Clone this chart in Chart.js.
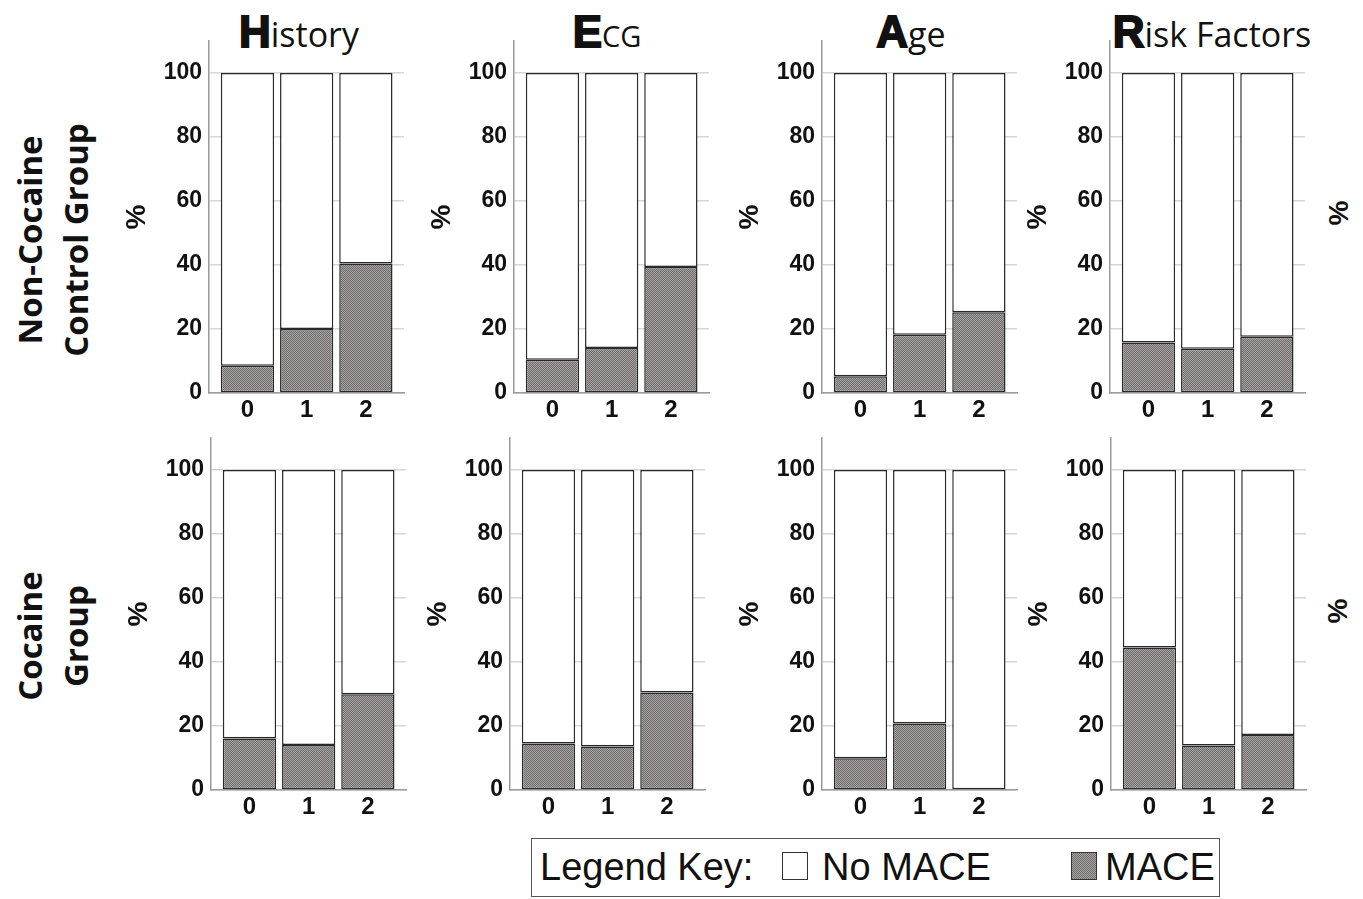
<!DOCTYPE html>
<html>
<head>
<meta charset="utf-8">
<script src="https://cdn.jsdelivr.net/npm/chart.js@4.4.1/dist/chart.umd.min.js"></script>
<style>
  body { margin: 0; background: #fff; width: 1363px; height: 899px; position: relative; overflow: hidden; font-family: "Liberation Sans", Arial, sans-serif; color: #111; }
  canvas.panel { position: absolute; }
  .title { position: absolute; width: 260px; text-align: center; white-space: nowrap; line-height: 50px; height: 50px; }
  .title .big { font: bold 44px "Liberation Sans"; -webkit-text-stroke: 1.8px #111; }
  .title .rest { font: 34px "Open Sans"; }
  .title .caps { font: 29px "Open Sans"; }
  .rowlabel { position: absolute; font: bold 33px "Open Sans"; line-height: 46px; text-align: center; white-space: nowrap; transform: translate(-50%, -50%) rotate(-90deg); }
  .pct { position: absolute; font: bold 28px "Liberation Sans"; transform: translate(-50%, -50%) rotate(-90deg); }
  #legend { position: absolute; left: 531px; top: 838px; width: 687px; height: 57px; border: 1.5px solid #555; line-height: 57px; font: 38px "Liberation Sans"; }
  #legend span { position: absolute; top: 0; line-height: 57px; }
  #legend .sw { position: absolute; top: 13px; width: 24px; height: 26px; border: 1px solid #333; }
</style>
</head>
<body>

<div class="rowlabel" style="left:53px; top:240px;">Non-Cocaine<br>Control Group</div>
<div class="rowlabel" style="left:53px; top:636px;">Cocaine<br>Group</div>

<div class="title" style="left:169px; top:7px;"><span class="big">H</span><span class="rest">istory</span></div>
<div class="title" style="left:477px; top:7px;"><span class="big">E</span><span class="caps">CG</span></div>
<div class="title" style="left:781px; top:7px;"><span class="big">A</span><span class="rest">ge</span></div>
<div class="title" style="left:1082px; top:7px;"><span class="big">R</span><span class="rest">isk Factors</span></div>

<div class="pct" style="left:1339px; top:213px;">%</div>
<div class="pct" style="left:1338px; top:611px;">%</div>

<canvas class="panel" id="c0"></canvas>
<canvas class="panel" id="c1"></canvas>
<canvas class="panel" id="c2"></canvas>
<canvas class="panel" id="c3"></canvas>
<canvas class="panel" id="c4"></canvas>
<canvas class="panel" id="c5"></canvas>
<canvas class="panel" id="c6"></canvas>
<canvas class="panel" id="c7"></canvas>

<div id="legend">
  <span style="left:8px;">Legend Key:</span>
  <div class="sw" style="left:250px; background:#fff;"></div>
  <span style="left:290px;">No MACE</span>
  <div class="sw" style="left:539px; background: repeating-conic-gradient(#747070 0 25%, #a4a0a0 0 50%) 0 0 / 2px 2px;"></div>
  <span style="left:573px;">MACE</span>
</div>

<script>
// Score categories on the x-axis
const categories = ['0', '1', '2']

// % of patients with MACE (bottom, patterned segment)
const controlHistoryMace = [8.5, 20.0, 40.5]
const controlEcgMace = [10.4, 14.1, 39.4]
const controlAgeMace = [5.2, 18.2, 25.2]
const controlRiskMace = [15.8, 13.8, 17.6]
const cocaineHistoryMace = [16.1, 14.1, 29.9]
const cocaineEcgMace = [14.5, 13.6, 30.5]
const cocaineAgeMace = [9.9, 20.8, 0]
const cocaineRiskMace = [44.5, 13.9, 17.2]

// % of patients without MACE (top, white segment)
const controlHistoryNoMace = [91.5, 80.0, 59.5]
const controlEcgNoMace = [89.6, 85.9, 60.6]
const controlAgeNoMace = [94.8, 81.8, 74.8]
const controlRiskNoMace = [84.2, 86.2, 82.4]
const cocaineHistoryNoMace = [83.9, 85.9, 70.1]
const cocaineEcgNoMace = [85.5, 86.4, 69.5]
const cocaineAgeNoMace = [90.1, 79.2, 100]
const cocaineRiskNoMace = [55.5, 86.1, 82.8]

const yTicks = [0, 20, 40, 60, 80, 100]

// Panel placement: x of the y-axis line, and top of the canvas for each row
const topAxisX = [209, 514, 822, 1110]
const bottomAxisX = [211, 510, 822, 1111]
const rowTop = [16, 413]

const axisWidth = 89   // room left of the axis for tick labels and the "%" title
const plotWidth = 195
const padRight = 14
const canvasHeight = 422

// Stippled grey fill used for the MACE segments
const patCanvas = document.createElement('canvas')
patCanvas.width = 2
patCanvas.height = 2
const pctx = patCanvas.getContext('2d')
pctx.fillStyle = '#a4a0a0'
pctx.fillRect(0, 0, 2, 2)
pctx.fillStyle = '#747070'
pctx.fillRect(0, 0, 1, 1)
pctx.fillRect(1, 1, 1, 1)
const macePattern = pctx.createPattern(patCanvas, 'repeat')

const tickFont = { family: 'Liberation Sans', size: 23, weight: 'bold' }

function toPoints(values) {
    return values.map((v, i) => ({ x: i, y: v }))
}

/**
 * Draws one stacked 100% bar panel
 */
function makePanel(canvasId, axisX, top, mace, noMace) {
    const canvas = document.getElementById(canvasId)
    canvas.width = axisWidth + plotWidth + padRight
    canvas.height = canvasHeight
    canvas.style.left = (axisX - axisWidth) + 'px'
    canvas.style.top = top + 'px'

    const barStyle = {
        borderColor: '#2a2a2a',
        borderWidth: 1.5,
        borderSkipped: false,
        barPercentage: 0.9,
        categoryPercentage: 1.0
    }

    return new Chart(canvas, {
        type: 'bar',
        data: {
            datasets: [
                Object.assign({ label: 'MACE', data: toPoints(mace), backgroundColor: macePattern }, barStyle),
                Object.assign({ label: 'No MACE', data: toPoints(noMace), backgroundColor: '#ffffff' }, barStyle)
            ]
        },
        options: {
            responsive: false,
            animation: false,
            devicePixelRatio: 1,
            layout: { padding: { top: 25, right: padRight, left: 0, bottom: 0 } },
            plugins: {
                legend: { display: false },
                tooltip: { enabled: false }
            },
            scales: {
                x: {
                    type: 'linear',
                    stacked: true,
                    offset: false,
                    min: -0.65,
                    max: 2.644,
                    grid: { display: false, drawTicks: false },
                    border: { color: '#9a9a9a', width: 1.5 },
                    ticks: {
                        stepSize: 1,
                        padding: 3,
                        maxRotation: 0,
                        color: '#111',
                        font: { family: 'Liberation Sans', size: 24, weight: 'bold' },
                        callback: value => categories[value]
                    },
                    afterBuildTicks: scale => {
                        scale.ticks = categories.map((c, i) => ({ value: i }))
                    },
                    afterFit: scale => { scale.height = 45 }
                },
                y: {
                    stacked: true,
                    min: 0,
                    max: 110,
                    grid: { color: '#d6d6d6', lineWidth: 1.5, drawTicks: false },
                    border: { color: '#9a9a9a', width: 1.5 },
                    ticks: { stepSize: 20, padding: 7, color: '#111', font: tickFont },
                    afterBuildTicks: scale => {
                        scale.ticks = yTicks.map(v => ({ value: v }))
                    },
                    afterFit: scale => { scale.width = axisWidth },
                    title: {
                        display: true,
                        text: '%',
                        color: '#111',
                        padding: 0,
                        font: { family: 'Liberation Sans', size: 28, weight: 'bold' }
                    }
                }
            }
        }
    })
}

makePanel('c0', topAxisX[0], rowTop[0], controlHistoryMace, controlHistoryNoMace)
makePanel('c1', topAxisX[1], rowTop[0], controlEcgMace, controlEcgNoMace)
makePanel('c2', topAxisX[2], rowTop[0], controlAgeMace, controlAgeNoMace)
makePanel('c3', topAxisX[3], rowTop[0], controlRiskMace, controlRiskNoMace)
makePanel('c4', bottomAxisX[0], rowTop[1], cocaineHistoryMace, cocaineHistoryNoMace)
makePanel('c5', bottomAxisX[1], rowTop[1], cocaineEcgMace, cocaineEcgNoMace)
makePanel('c6', bottomAxisX[2], rowTop[1], cocaineAgeMace, cocaineAgeNoMace)
makePanel('c7', bottomAxisX[3], rowTop[1], cocaineRiskMace, cocaineRiskNoMace)
</script>
</body>
</html>
